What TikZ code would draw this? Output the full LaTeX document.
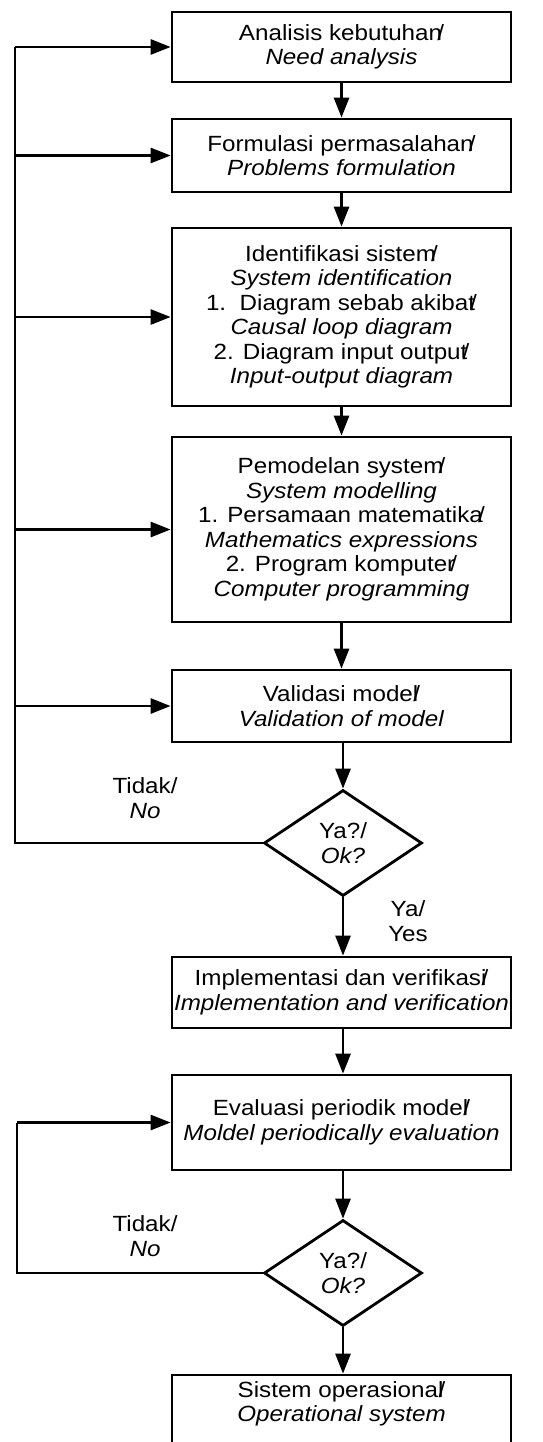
\documentclass[tikz,border=0pt]{standalone}
\usepackage{fontspec}
\setmainfont{Liberation Sans}[FakeStretch=1.1]
\usetikzlibrary{arrows.meta,shapes.geometric}
% slash that runs into the last letter of a heading
\newcommand{\ovs}{\kern-0.22em/}
\begin{document}
\begin{tikzpicture}[x=1pt,y=-1pt,
  txt/.style={font=\fontsize{22}{24.5}\selectfont, align=center},
  box/.style={txt, draw, line width=2.8pt, minimum width=339pt, inner sep=0pt},
  dec/.style={txt, draw, diamond, line width=2.8pt, minimum width=158pt,
              minimum height=106pt, inner sep=0pt},
  link/.style={line width=2.8pt},
  flow/.style={link, -{Triangle[length=20pt,width=15pt]}}]
\useasboundingbox (0,0) rectangle (543,1442);

% main column
\node[box, minimum height=70pt]  (b1) at (341.5,47)    {Analisis kebutuhan\ovs\\\textit{Need analysis}};
\node[box, minimum height=73pt]  (b2) at (341.5,155.5) {Formulasi permasalahan\ovs\\\textit{Problems formulation}};
\node[box, minimum height=178pt] (b3) at (341.5,317)   {Identifikasi sistem\ovs\\\textit{System identification}\\
  1.\ \ Diagram sebab akibat\ovs\\\textit{Causal loop diagram}\\
  2. Diagram input output\ovs\\\textit{Input-output diagram}};
\node[box, minimum height=185pt] (b4) at (341.5,529.5) {Pemodelan system\ovs\\\textit{System modelling}\\
  1. Persamaan matematika\ovs\\\textit{Mathematics expressions}\\
  2. Program komputer\ovs\\\textit{Computer programming}};
\node[box, minimum height=72pt]  (b5) at (341.5,706)   {Validasi model\ovs\\\textit{Validation of model}};
\node[dec] (d1) at (343,843) {Ya?/\\\textit{Ok?}};
\node[box, minimum height=71pt]  (b6) at (341.5,992.5) {Implementasi dan verifikasi\ovs\\\textit{Implementation and verification}};
\node[box, minimum height=95pt]  (b7) at (341.5,1122.5) {Evaluasi periodik model\ovs\\\textit{Moldel periodically evaluation}};
\node[dec] (d2) at (343,1273) {Ya?/\\\textit{Ok?}};
\node[box, minimum height=75pt]  (b8) at (341.5,1412.5) {};
\node[txt] (b8t) at (341.5,1404) {Sistem operasional\ovs\\\textit{Operational system}};

% branch labels
\node[txt] (no1)  at (145,798)  {Tidak/\\\textit{No}};
\node[txt] (yes1) at (408,921)  {Ya/\\Yes};
\node[txt] (no2)  at (145,1236) {Tidak/\\\textit{No}};

% forward flow
\draw[flow] (b1) -- (b2);
\draw[flow] (b2) -- (b3);
\draw[flow] (b3) -- (b4);
\draw[flow] (b4) -- (b5);
\draw[flow] (b5.south -| d1.north) -- (d1.north);
\draw[flow] (d1.south) -- (d1.south |- b6.north);
\draw[flow] (b6.south -| d1.north) -- (d1.north |- b7.north);
\draw[flow] (b7.south -| d2.north) -- (d2.north);
\draw[flow] (d2.south) -- (d2.south |- b8.north);

% first feedback loop
\coordinate (rail1) at (15,47);
\draw[link] (d1.west) -| (rail1);
\draw[flow] (rail1) -- (b1.west);
\draw[flow] (rail1 |- b2.west) -- (b2.west);
\draw[flow] (rail1 |- b3.west) -- (b3.west);
\draw[flow] (rail1 |- b4.west) -- (b4.west);
\draw[flow] (rail1 |- b5.west) -- (b5.west);

% second feedback loop
\coordinate (rail2) at (17,1122.5);
\draw[link] (d2.west) -| (rail2);
\draw[flow] (rail2) -- (b7.west);
\end{tikzpicture}
\end{document}
